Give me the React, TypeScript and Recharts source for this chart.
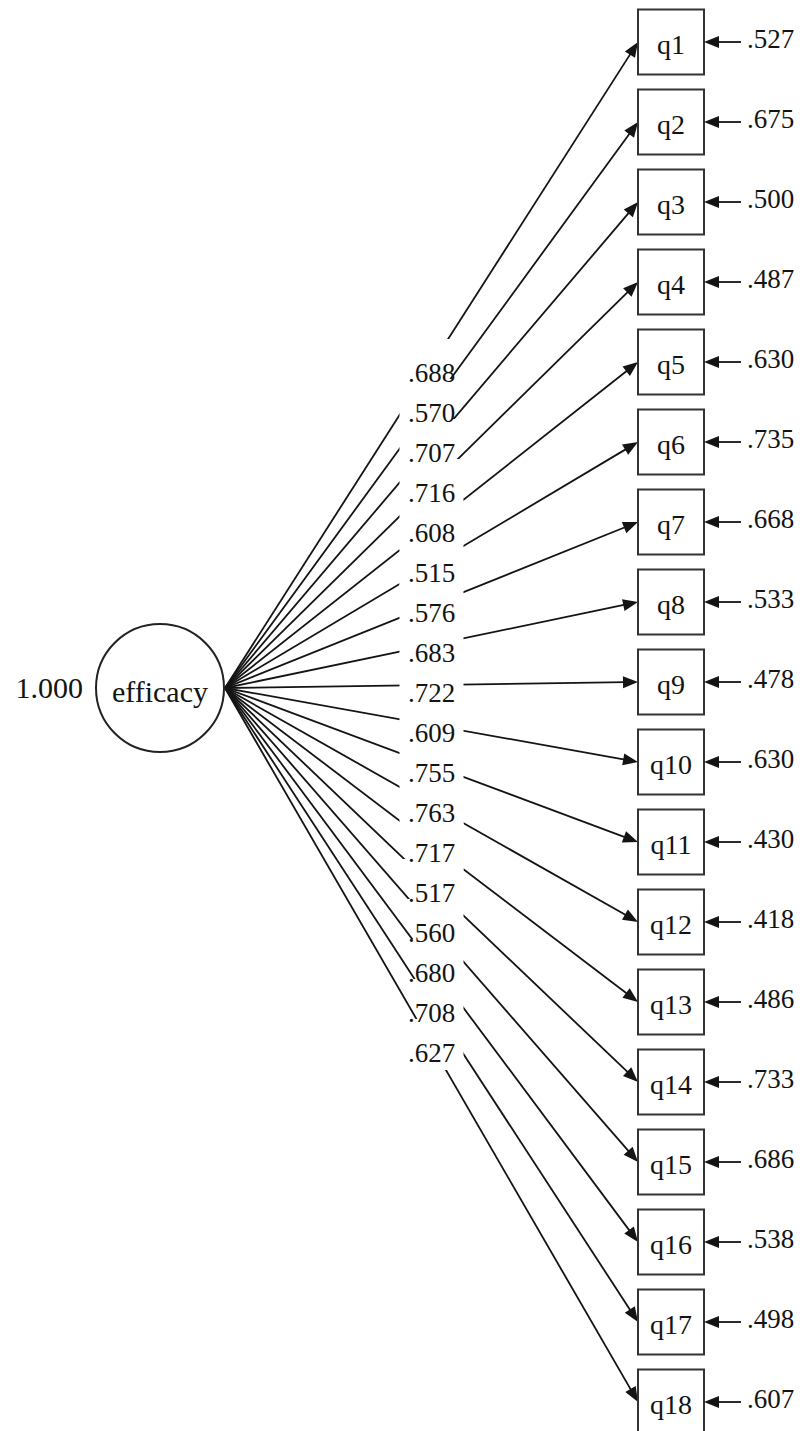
import React from 'react';
import { ScatterChart, Scatter, XAxis, YAxis, ReferenceLine } from 'recharts';

// model values
const items = ['q1', 'q2', 'q3', 'q4', 'q5', 'q6', 'q7', 'q8', 'q9', 'q10', 'q11', 'q12', 'q13', 'q14', 'q15', 'q16', 'q17', 'q18'];
const loadings = [0.688, 0.57, 0.707, 0.716, 0.608, 0.515, 0.576, 0.683, 0.722, 0.609, 0.755, 0.763, 0.717, 0.517, 0.56, 0.68, 0.708, 0.627];
const residuals = [0.527, 0.675, 0.5, 0.487, 0.63, 0.735, 0.668, 0.533, 0.478, 0.63, 0.43, 0.418, 0.486, 0.733, 0.686, 0.538, 0.498, 0.607];
const factorName = 'efficacy';
const factorVariance = 1.0;

// layout
const W = 806;
const H = 1431;
const ROW_PX = 80; // distance between indicator rows
const TOP_PX = 42; // centre of first row
const FACTOR_X = 160;
const FACTOR_ROW = 8.075;
const CIRCLE_R = 64;
const BOX_X = 671;
const BOX_W = 66;
const BOX_H = 65;
const FONT = '"Liberation Serif", "Times New Roman", serif';
const INK = '#141414';

const fmt = (v: number, lead = false) => {
  const s = v.toFixed(3);
  return lead ? s : s.replace(/^0/, '');
};

const arrowHead = (x1: number, y1: number, x2: number, y2: number, len = 15, half = 6) => {
  const dx = x2 - x1;
  const dy = y2 - y1;
  const d = Math.hypot(dx, dy) || 1;
  const ux = dx / d;
  const uy = dy / d;
  const bx = x2 - ux * len;
  const by = y2 - uy * len;
  return {
    pts: `${x2},${y2} ${bx - uy * half},${by + ux * half} ${bx + uy * half},${by - ux * half}`,
    lx: x2 - ux * (len - 3),
    ly: y2 - uy * (len - 3),
  };
};

// path with a white gap where its coefficient sits
const PathShape = ({ p }: { p: any }) => {
  const x1 = Number(p.x1);
  const y1 = Number(p.y1);
  const x2 = Number(p.x2);
  const y2 = Number(p.y2);
  const a = arrowHead(x1, y1, x2, y2);
  const mx = (x1 + x2) / 2;
  const my = (y1 + y2) / 2;
  return (
    <g>
      <line x1={x1} y1={y1} x2={a.lx} y2={a.ly} stroke={INK} strokeWidth={1.8} />
      <polygon points={a.pts} fill={INK} />
      <rect x={mx - 32} y={my - 26} width={64} height={51} fill="#fff" />
    </g>
  );
};

const PathLabel = ({ p, label }: { p: any; label: string }) => {
  const mx = (Number(p.x1) + Number(p.x2)) / 2;
  const my = (Number(p.y1) + Number(p.y2)) / 2;
  return (
    <text x={mx} y={my + 17} textAnchor="middle" fontSize={27} fontFamily={FONT} fill={INK}>
      {label}
    </text>
  );
};

const BoxShape = (props: any) => {
  const { cx, cy, payload } = props;
  const right = cx + BOX_W / 2;
  const a = arrowHead(right + 37, cy, right, cy, 15, 6);
  return (
    <g>
      <rect x={cx - BOX_W / 2} y={cy - BOX_H / 2} width={BOX_W} height={BOX_H} fill="#fff" stroke="#333" strokeWidth={2} />
      <text x={cx} y={cy + 12} textAnchor="middle" fontSize={28} fontFamily={FONT} fill={INK}>
        {payload.name}
      </text>
      <line x1={right + 37} y1={cy} x2={a.lx} y2={cy} stroke={INK} strokeWidth={1.8} />
      <polygon points={a.pts} fill={INK} />
      <text x={right + 43} y={cy + 6} fontSize={27} fontFamily={FONT} fill={INK}>
        {fmt(payload.residual)}
      </text>
    </g>
  );
};

const FactorShape = (props: any) => {
  const { cx, cy, payload } = props;
  return (
    <g>
      <circle cx={cx} cy={cy} r={CIRCLE_R} fill="#fff" stroke="#222" strokeWidth={2} />
      <text x={cx} y={cy + 14} textAnchor="middle" fontSize={30} fontFamily={FONT} fill={INK}>
        {payload.name}
      </text>
      <text x={cx - CIRCLE_R - 13} y={cy + 10} textAnchor="end" fontSize={30} fontFamily={FONT} fill={INK}>
        {fmt(payload.variance, true)}
      </text>
    </g>
  );
};

export default function App() {
  const boxes = items.map((name, i) => ({ x: BOX_X, y: i, name, residual: residuals[i] }));
  const factor = [{ x: FACTOR_X, y: FACTOR_ROW, name: factorName, variance: factorVariance }];
  const yDomain = [-TOP_PX / ROW_PX, (H - TOP_PX) / ROW_PX];
  const seg = (i: number) => [
    { x: FACTOR_X + CIRCLE_R + 1, y: FACTOR_ROW },
    { x: BOX_X - BOX_W / 2, y: i },
  ];

  return (
    <div style={{ width: W, height: H, overflow: 'hidden', background: '#fff' }}>
      <style>{'body{margin:0;background:#fff}'}</style>
      <ScatterChart width={W} height={H} margin={{ top: 0, right: 0, bottom: 0, left: 0 }}>
        <XAxis type="number" dataKey="x" domain={[0, W]} allowDataOverflow hide />
        <YAxis type="number" dataKey="y" domain={yDomain} allowDataOverflow reversed hide />
        {items.map((name, i) => (
          <ReferenceLine
            key={`path-${name}`}
            ifOverflow="visible"
            segment={seg(i)}
            shape={(p: any) => <PathShape p={p} />}
          />
        ))}
        {items.map((name, i) => (
          <ReferenceLine
            key={`coef-${name}`}
            ifOverflow="visible"
            segment={seg(i)}
            shape={(p: any) => <PathLabel p={p} label={fmt(loadings[i])} />}
          />
        ))}
        <Scatter data={boxes} shape={BoxShape} isAnimationActive={false} />
        <Scatter data={factor} shape={FactorShape} isAnimationActive={false} />
      </ScatterChart>
    </div>
  );
}
